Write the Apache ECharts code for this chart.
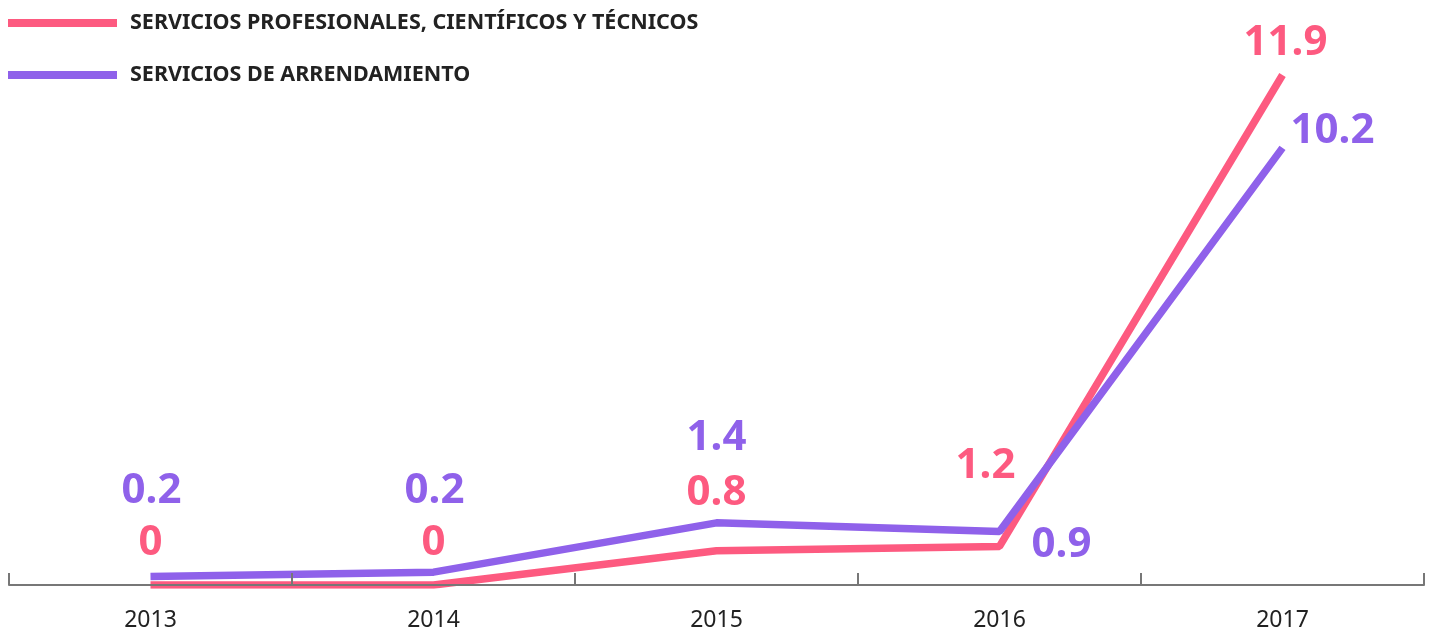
<!DOCTYPE html>
<html>
<head>
<meta charset="utf-8">
<script src="https://cdn.jsdelivr.net/npm/echarts@6/dist/echarts.min.js"></script>
<style>
  html, body { margin: 0; padding: 0; background: #fff; }
  #chart { width: 1433px; height: 634px; }
</style>
</head>
<body>
<div id="chart"></div>
<script>
// datos
var years = ['2013', '2014', '2015', '2016', '2017'];
var profesionales = [0, 0, 0.8, 0.9, 11.9];
var arrendamiento = [0.2, 0.3, 1.45, 1.25, 10.2];
var profLabels = ['0', '0', '0.8', '1.2', '11.9'];
var arrLabels = ['0.2', '0.2', '1.4', '0.9', '10.2'];

// desplazamiento de etiquetas [x, y]
var profOffsets = [[0, -42], [0, -42], [0, -58], [-14, -80], [3, -32]];
var arrOffsets = [[1, -85], [1, -81], [0, -85], [62, 14], [50, -17]];

var pink = '#fd5a80';
var purple = '#8f61ea';
var font = 'Noto Sans';

function buildData(values, labels, offsets, color) {
    return values.map(function (v, i) {
        return {
            value: v,
            label: {
                show: true,
                position: 'inside',
                offset: offsets[i],
                formatter: labels[i],
                color: color,
                fontFamily: font,
                fontWeight: 'bold',
                fontSize: 42
            }
        };
    });
}

var myChart = echarts.init(document.getElementById('chart'));

var option = {
    animation: false,
    legend: {
        orient: 'vertical',
        left: 8,
        top: 11,
        padding: 0,
        icon: 'rect',
        itemWidth: 109,
        itemHeight: 8,
        itemGap: 28,
        textStyle: {
            color: '#222',
            fontFamily: font,
            fontWeight: 'bold',
            fontSize: 21.5,
            lineHeight: 24,
            padding: [0, 0, 0, 8]
        },
        data: ['SERVICIOS PROFESIONALES, CIENTÍFICOS Y TÉCNICOS', 'SERVICIOS DE ARRENDAMIENTO']
    },
    grid: { left: 9, right: 9, top: 75, bottom: 49 },
    xAxis: {
        type: 'category',
        data: years,
        boundaryGap: true,
        z: 10,
        axisLine: { lineStyle: { color: '#777', width: 2 } },
        axisTick: { show: true, interval: 0, inside: true, length: 12, lineStyle: { color: '#777', width: 2 } },
        axisLabel: { color: '#222', fontFamily: font, fontSize: 23, margin: 24 }
    },
    yAxis: {
        type: 'value',
        min: 0,
        max: 11.9,
        show: false
    },
    series: [
        {
            name: 'SERVICIOS PROFESIONALES, CIENTÍFICOS Y TÉCNICOS',
            type: 'line',
            color: pink,
            symbolSize: 0,
            showSymbol: true,
            lineStyle: { width: 7.5, color: pink },
            data: buildData(profesionales, profLabels, profOffsets, pink)
        },
        {
            name: 'SERVICIOS DE ARRENDAMIENTO',
            type: 'line',
            color: purple,
            symbolSize: 0,
            showSymbol: true,
            lineStyle: { width: 7.5, color: purple },
            data: buildData(arrendamiento, arrLabels, arrOffsets, purple)
        }
    ]
};

myChart.setOption(option);
</script>
</body>
</html>
